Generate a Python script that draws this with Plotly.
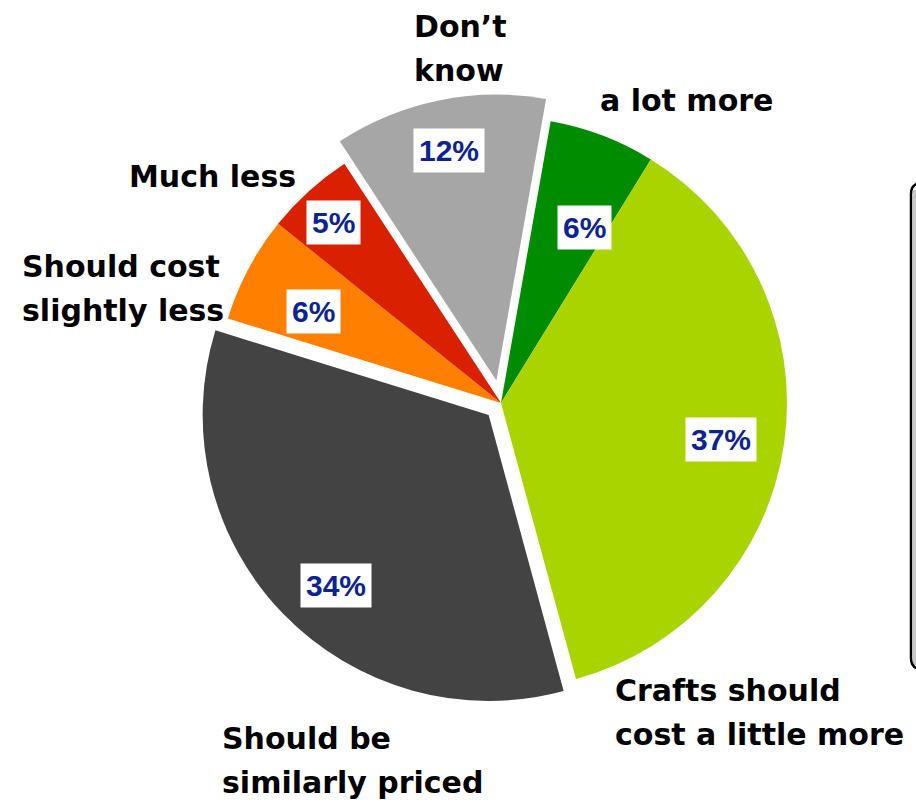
import math
import plotly.graph_objects as go

# ---- data ----
categories = ["a lot more", "Crafts should cost a little more", "Should be similarly priced",
              "Should cost slightly less", "Much less", "Don\u2019t know"]
values = [6, 37, 34, 6, 5, 12]
pct_labels = ["6%", "37%", "34%", "6%", "5%", "12%"]
label_lines = [["a lot more"], ["Crafts should", "cost a little more"], ["Should be", "similarly priced"],
               ["Should cost", "slightly less"], ["Much less"], ["Don\u2019t", "know"]]

# ---- styles / layout ----
colors = ["#008c00", "#aad400", "#434343", "#ff7f00", "#d92000", "#a6a6a6"]
pulls = [0, 0, 0.06, 0, 0, 0.08]
W, H = 916, 802
CX, CY, R = 501, 403, 286
ROT = 10
pct_radius = [0.68, 0.78, 0.86, 0.73, 0.86, 0.90]
pct_angle_off = [4.7, 1.3, -3.8, -2.0, -0.7, 0.0]
# left x, vertical center (px) for category label blocks
label_pos = [(598, 101), (613, 712), (220, 760), (20, 288), (127, 176), (412, 49)]
LINE_GAP = 44

maxpull = max(pulls)
half = R * (1 + maxpull)
dom_x = [(CX - half) / W, (CX + half) / W]
dom_y = [(H - CY - half) / H, (H - CY + half) / H]

fig = go.Figure(go.Pie(
    labels=categories, values=values, sort=False, direction="clockwise",
    rotation=ROT, pull=pulls, textinfo="none", hoverinfo="label+percent",
    marker=dict(colors=colors, line=dict(width=0)),
    domain=dict(x=dom_x, y=dom_y), showlegend=False,
))

def px2paper(x, y):
    return x / W, 1 - y / H

annotations = []
total = sum(values)
cum = 0
for i, v in enumerate(values):
    mid = ROT + 360 * (cum + v / 2) / total + pct_angle_off[i]
    cum += v
    r = R * pct_radius[i]
    x = CX + r * math.sin(math.radians(mid))
    y = CY - r * math.cos(math.radians(mid))
    px, py = px2paper(x, y)
    annotations.append(dict(
        x=px, y=py, xref="paper", yref="paper", text="<b>%s</b>" % pct_labels[i],
        showarrow=False, xanchor="center", yanchor="middle",
        font=dict(family="Liberation Sans, Arial, sans-serif", size=30, color="#0b2394"),
        bgcolor="white", borderpad=5,
    ))

for i, lines in enumerate(label_lines):
    lx, ly = label_pos[i]
    n = len(lines)
    for j, line in enumerate(lines):
        yy = ly + (j - (n - 1) / 2) * LINE_GAP
        px, py = px2paper(lx, yy)
        annotations.append(dict(
            x=px, y=py, xref="paper", yref="paper", text="<b>%s</b>" % line,
            showarrow=False, xanchor="left", yanchor="middle", align="left",
            font=dict(family="DejaVu Sans, Verdana, sans-serif", size=30, color="black"),
        ))

# partially visible rounded box at right edge
shapes = [
    dict(type="rect", xref="paper", yref="paper",
         x0=913 / W, x1=920 / W, y0=1 - 665 / H, y1=1 - 190 / H,
         fillcolor="#c8c8c8", line=dict(width=0), layer="below"),
    dict(type="path", xref="paper", yref="paper",
         path="M {a},{b} Q {c},{d} {c},{e} L {c},{f} Q {c},{g} {a},{h}".format(
             a=920 / W, b=1 - 183 / H, c=911 / W, d=1 - 184 / H, e=1 - 194 / H,
             f=1 - 658 / H, g=1 - 668 / H, h=1 - 669 / H),
         line=dict(color="black", width=2.5)),
]

fig.update_layout(
    width=W, height=H, margin=dict(l=0, r=0, t=0, b=0),
    paper_bgcolor="white", plot_bgcolor="white",
    annotations=annotations, shapes=shapes,
)

fig.write_html("out.html", config={"displayModeBar": False},
               post_script="document.body.style.margin='0px';document.body.style.overflow='hidden';")
